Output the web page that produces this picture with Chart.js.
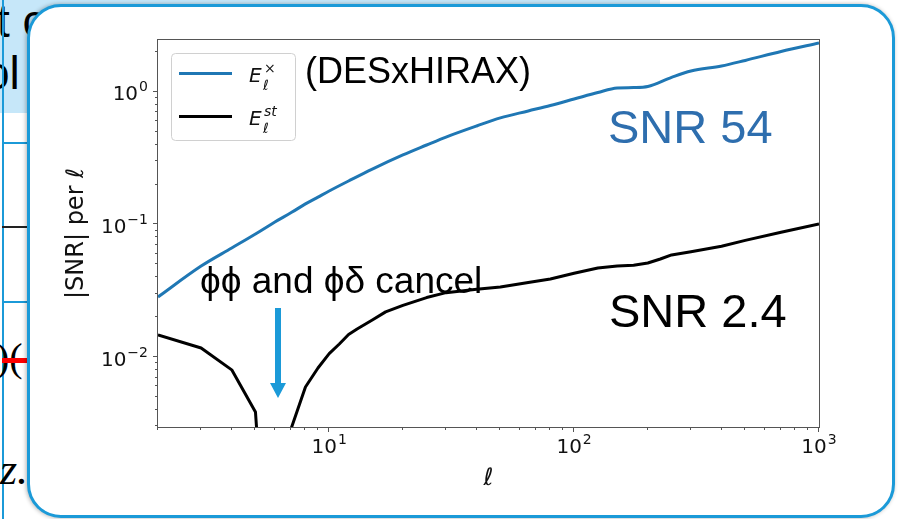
<!DOCTYPE html>
<html>
<head>
<meta charset="utf-8">
<script src="https://cdn.jsdelivr.net/npm/chart.js@4.4.1/dist/chart.umd.min.js"></script>
<style>
  html, body { margin: 0; padding: 0; width: 899px; height: 519px; overflow: hidden; background: #fff; }
  .band { position: absolute; left: 0; top: 0; width: 660px; height: 113px; background: #c6e7f9; }
  .vline { position: absolute; left: 2px; top: 0; width: 2px; height: 519px; background: #1b9ad8; }
  .hline { position: absolute; left: 2px; width: 28px; height: 2px; }
  .slide { position: absolute; font-family: "Liberation Sans", Arial, sans-serif; font-size: 46px; color: #000; line-height: 1; }
  .box { position: absolute; left: 27px; top: 4px; width: 862px; height: 508px; border: 3px solid #1b9ad8; border-radius: 34px; background: #fff; box-shadow: -1px 0 4px rgba(0,0,0,0.3); }
  #plot { position: absolute; left: 0; top: 0; }
</style>
</head>
<body>
<div class="band"></div>
<div class="slide" style="left:-3px; top:-2px;">t c</div>
<div class="slide" style="left:-16px; top:50px;">ol</div>
<div class="vline"></div>
<div class="hline" style="top:142px; background:#1b9ad8;"></div>
<div class="hline" style="top:226px; background:#222;"></div>
<div class="hline" style="top:301px; background:#1b9ad8;"></div>
<div class="slide" style="left:-4px; top:338px; font-family:'Liberation Serif'; font-size:40px;">)(</div>
<div class="hline" style="top:358px; height:5px; background:#f00;"></div>
<div class="slide" style="left:0; top:448px; font-family:'Liberation Serif'; font-style:italic; font-size:44px;">z.</div>
<div class="box"></div>
<canvas id="plot" width="899" height="519"></canvas>
<script>
// |SNR| per ell, cross estimator
const ellCross = [2, 3, 4, 5, 6, 7, 8, 9, 10, 12, 15, 20, 25, 30, 40, 50, 65, 80, 100, 125, 150, 175, 200, 250, 300, 400, 500, 700, 1000];
const snrCross = [0.0284, 0.0486, 0.0665, 0.0848, 0.1045, 0.123, 0.143, 0.161, 0.179, 0.213, 0.262, 0.335, 0.398, 0.457, 0.554, 0.637, 0.719, 0.791, 0.885, 0.991, 1.072, 1.08, 1.10, 1.29, 1.44, 1.57, 1.73, 2.02, 2.34];

// |SNR| per ell, standard estimator (dips through zero near ell = 6)
const ellStd = [2, 3, 4, 5, 6, 7, 8, 9, 10, 11, 12, 13, 15, 17, 20, 25, 30, 40, 50, 65, 80, 100, 125, 150, 175, 200, 225, 250, 300, 400, 500, 700, 1000];
const snrStd = [0.0147, 0.0117, 0.0080, 0.00385, 0.00003, 0.0029, 0.00594, 0.00826, 0.0106, 0.01254, 0.0148, 0.01626, 0.0190, 0.0219, 0.0245, 0.0281, 0.0306, 0.0324, 0.0337, 0.0365, 0.0388, 0.0428, 0.0470, 0.0486, 0.0492, 0.0512, 0.0549, 0.0589, 0.0623, 0.0686, 0.0759, 0.0875, 0.101];

const seriesSup = ['×', 'st'];

// tick positions and their labels as [mantissa, exponent]
const xTicks = [10, 100, 1000];
const xTickLabels = [['10', '1'], ['10', '2'], ['10', '3']];
const yTicks = [0.01, 0.1, 1];
const yTickLabels = [['10', '−2'], ['10', '−1'], ['10', '0']];

// all k*10^n positions inside [min, max], k=1 is a major tick
function logTicks(min, max) {
  const out = [];
  for (let e = Math.floor(Math.log10(min)); e <= Math.ceil(Math.log10(max)); e++) {
    for (let k = 1; k < 10; k++) {
      const v = k * Math.pow(10, e);
      if (v >= min * 0.999 && v <= max * 1.001) out.push({ v: v, major: k === 1 });
    }
  }
  return out;
}

// draws "10" with a raised exponent; align is 'right' or 'center'
function powerLabel(ctx, lbl, px, baseline, align) {
  ctx.font = '20px "DejaVu Sans"';
  const wb = ctx.measureText(lbl[0]).width;
  ctx.font = '14px "DejaVu Sans"';
  const we = ctx.measureText(lbl[1]).width;
  const x0 = align === 'right' ? px - wb - we - 1 : px - (wb + we + 1) / 2;
  ctx.textAlign = 'left';
  ctx.textBaseline = 'alphabetic';
  ctx.font = '20px "DejaVu Sans"';
  ctx.fillText(lbl[0], x0, baseline);
  ctx.font = '14px "DejaVu Sans"';
  ctx.fillText(lbl[1], x0 + wb + 1, baseline - 9);
}

const extras = {
  id: 'extras',
  afterDatasetsDraw(chart) {
    const ctx = chart.ctx;
    const a = chart.chartArea;
    const x = chart.scales.x, y = chart.scales.y;
    ctx.save();

    // frame and tick marks
    ctx.strokeStyle = '#555';
    ctx.lineWidth = 1;
    ctx.strokeRect(Math.round(a.left) - 0.5, Math.round(a.top) - 0.5, Math.round(a.right - a.left) + 1, Math.round(a.bottom - a.top) + 1);
    logTicks(x.min, x.max).forEach(t => {
      const px = Math.round(x.getPixelForValue(t.v)) - 0.5;
      ctx.beginPath();
      ctx.moveTo(px, a.bottom);
      ctx.lineTo(px, a.bottom + (t.major ? 5 : 3));
      ctx.stroke();
    });
    logTicks(y.min, y.max).forEach(t => {
      const py = Math.round(y.getPixelForValue(t.v)) - 0.5;
      ctx.beginPath();
      ctx.moveTo(a.left, py);
      ctx.lineTo(a.left - (t.major ? 5 : 3), py);
      ctx.stroke();
    });

    // tick labels
    ctx.fillStyle = '#111';
    xTicks.forEach((v, i) => powerLabel(ctx, xTickLabels[i], x.getPixelForValue(v), a.bottom + 26, 'center'));
    yTicks.forEach((v, i) => powerLabel(ctx, yTickLabels[i], a.left - 10, y.getPixelForValue(v) + 8.5, 'right'));

    // legend
    ctx.beginPath();
    ctx.roundRect(171.5, 53.5, 124, 87, 4);
    ctx.fillStyle = 'rgba(255,255,255,0.8)';
    ctx.fill();
    ctx.strokeStyle = '#d0d0d0';
    ctx.stroke();
    chart.data.datasets.forEach((ds, i) => {
      const yy = 73.5 + i * 43;
      ctx.strokeStyle = ds.borderColor;
      ctx.lineWidth = 3;
      ctx.beginPath();
      ctx.moveTo(179, yy);
      ctx.lineTo(232, yy);
      ctx.stroke();
      ctx.fillStyle = '#111';
      ctx.textAlign = 'left';
      ctx.textBaseline = 'alphabetic';
      ctx.font = 'italic 20px "DejaVu Sans"';
      ctx.fillText('E', 249, yy + 8.5);
      ctx.font = 'italic 14px "DejaVu Sans"';
      ctx.fillText('ℓ', 263, yy + 16);
      ctx.fillText(seriesSup[i], 264, yy - 1);
    });

    // annotations
    ctx.fillStyle = '#000';
    ctx.font = '36px "Liberation Sans"';
    ctx.fillText('(DESxHIRAX)', 305, 83);
    ctx.font = '37px "Liberation Sans"';
    ctx.fillText('ϕϕ and ϕδ cancel', 200, 293);
    ctx.font = '47px "Liberation Sans"';
    ctx.fillText('SNR 2.4', 609, 327);
    ctx.fillStyle = '#2e6eae';
    ctx.fillText('SNR 54', 608, 143);

    // arrow pointing at the cancellation
    ctx.fillStyle = '#1b9ad8';
    ctx.fillRect(275, 308, 6, 76);
    ctx.beginPath();
    ctx.moveTo(270, 383);
    ctx.lineTo(286, 383);
    ctx.lineTo(278, 398);
    ctx.closePath();
    ctx.fill();
    ctx.restore();
  }
};

new Chart(document.getElementById('plot'), {
  type: 'line',
  data: {
    datasets: [
      { label: 'E cross', data: ellCross.map((l, i) => ({ x: l, y: snrCross[i] })), borderColor: '#1f77b4', borderWidth: 3, pointRadius: 0, cubicInterpolationMode: 'monotone', clip: 0 },
      { label: 'E st', data: ellStd.map((l, i) => ({ x: l, y: snrStd[i] })), borderColor: '#000000', borderWidth: 3, pointRadius: 0, tension: 0, borderJoinStyle: 'round', clip: 0 }
    ]
  },
  options: {
    responsive: false,
    animation: false,
    layout: { padding: { left: 0, top: 40, right: 80, bottom: 0 } },
    plugins: { legend: { display: false }, tooltip: { enabled: false } },
    scales: {
      x: {
        type: 'logarithmic', min: 2, max: 1000,
        afterFit: s => { s.height = 92; },
        afterBuildTicks: s => { s.ticks = xTicks.map(v => ({ value: v })); },
        grid: { display: false, drawTicks: false },
        border: { display: false },
        ticks: { display: false },
        title: { display: true, text: 'ℓ', color: '#111', font: { family: 'DejaVu Sans', size: 24, style: 'italic' }, padding: { top: 0, bottom: 26 } }
      },
      y: {
        type: 'logarithmic', min: 0.002964, max: 2.467,
        afterFit: s => { s.width = 158; },
        afterBuildTicks: s => { s.ticks = yTicks.map(v => ({ value: v })); },
        grid: { display: false, drawTicks: false },
        border: { display: false },
        ticks: { display: false },
        title: { display: true, text: '|SNR| per ℓ', color: '#111', font: { family: 'DejaVu Sans', size: 24 }, padding: { top: 62, bottom: 0 } }
      }
    }
  },
  plugins: [extras]
});
</script>
</body>
</html>
